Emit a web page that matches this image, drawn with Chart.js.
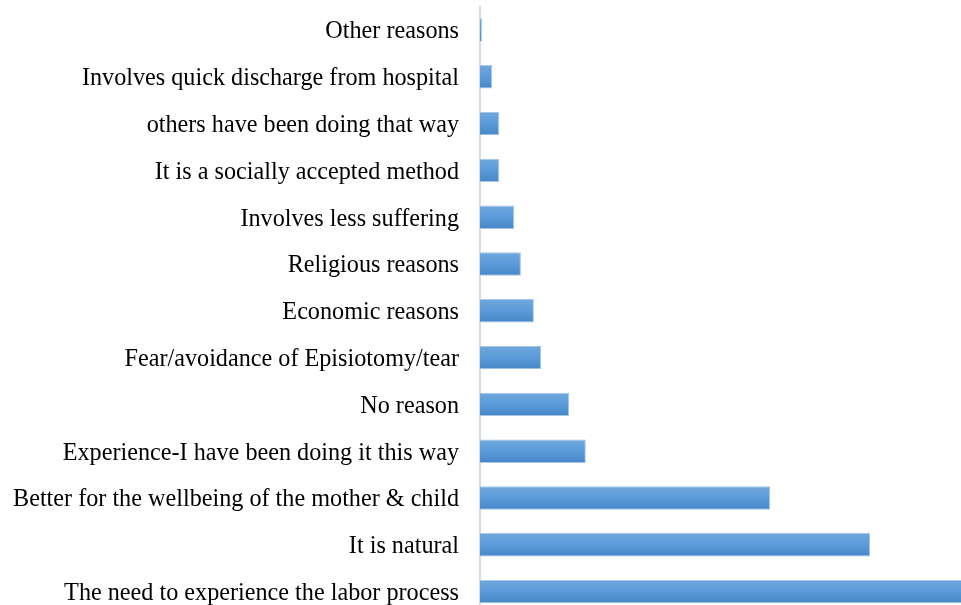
<!DOCTYPE html>
<html>
<head>
<meta charset="utf-8">
<script src="https://cdn.jsdelivr.net/npm/chart.js@4"></script>
<style>
  html, body { margin:0; padding:0; background:#fff; overflow:hidden; }
  #wrap { position:relative; width:961px; height:615px; }
</style>
</head>
<body>
<div id="wrap"><canvas id="reasonsChart" width="961" height="615"></canvas></div>
<script>
'use strict';

// ---- Données (haut -> bas) ----
const reasons = [
  'Other reasons',
  'Involves quick discharge from hospital',
  'others have been doing that way',
  'It is a socially accepted method',
  'Involves less suffering',
  'Religious reasons',
  'Economic reasons',
  'Fear/avoidance of Episiotomy/tear',
  'No reason',
  'Experience-I have been doing it this way',
  'Better for the wellbeing of the mother & child',
  'It is natural',
  'The need to experience the labor process'
];
const shares = [0.4, 2.5, 4.0, 4.0, 7.1, 8.5, 11.2, 12.7, 18.5, 22.0, 60.3, 81.1, 104.0];
const axisMax = 100;

// ---- Dégradé vertical par barre ----
function barGradient(c) {
  const chart = c.chart, y = chart.scales.y;
  if (!y || c.dataIndex === undefined) return '#5b9bd5';
  const half = (y.height / reasons.length) * 0.25;
  const mid = y.getPixelForValue(c.dataIndex);
  if (!isFinite(mid) || !isFinite(half) || half <= 0) return '#5b9bd5';
  const g = chart.ctx.createLinearGradient(0, mid - half, 0, mid + half);
  g.addColorStop(0, '#71a7de');
  g.addColorStop(0.5, '#5b9bd9');
  g.addColorStop(1, '#4686c7');
  return g;
}

new Chart(document.getElementById('reasonsChart').getContext('2d'), {
  type: 'bar',
  data: {
    labels: reasons,
    datasets: [{ data: shares, backgroundColor: barGradient,
      borderColor: '#a3c6ea', borderWidth: 1, borderSkipped: 'left',
      barPercentage: 0.5, categoryPercentage: 1 }]
  },
  options: {
    indexAxis: 'y', responsive: false, animation: false,
    layout: { padding: { top: 6.6, bottom: 0, left: 0, right: 0 } },
    plugins: { legend: { display: false }, tooltip: { enabled: false } },
    scales: {
      x: { display: false, min: 0, max: axisMax },
      y: {
        grid: { display: false, drawTicks: false },
        border: { display: true, color: '#d5dbe4', width: 2 },
        ticks: { color: '#000', padding: 21, labelOffset: 2,
          font: { family: "'Liberation Serif', 'Times New Roman', serif", size: 24.2 } },
        afterFit: s => { s.width = 480; s.paddingTop = 0; s.paddingBottom = 0; }
      }
    }
  }
});
</script>
</body>
</html>
